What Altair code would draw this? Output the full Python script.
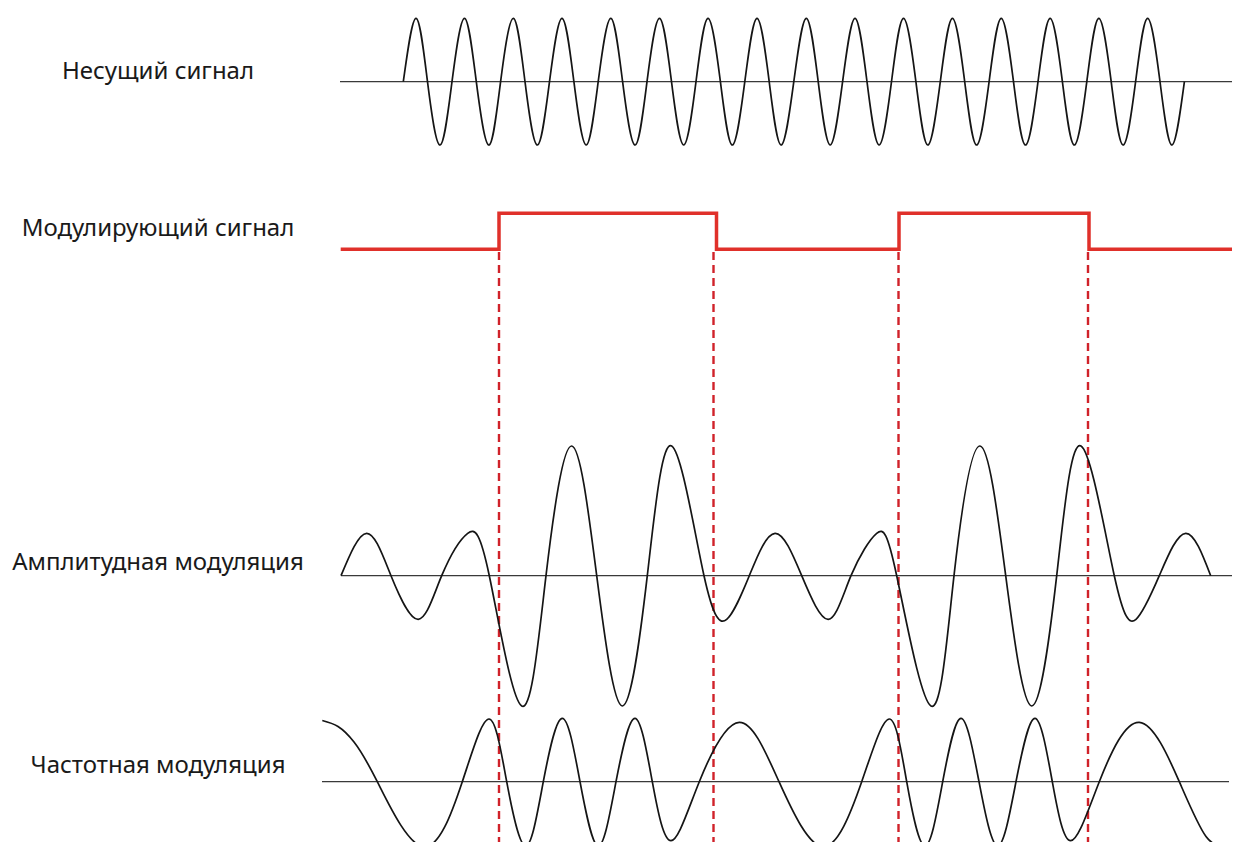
import altair as alt
import pandas as pd

# ---------------- data ----------------
# Horizontal unit: time (same units as the picture's x), vertical: signal level (picture y units)

labels = ["Несущий сигнал", "Модулирующий сигнал", "Амплитудная модуляция", "Частотная модуляция"]
label_x = [158, 158, 158, 158]
label_y = [72, 229, 563, 766]

# Carrier signal: zero crossings, peaks, troughs
carrier_base = 81.7
carrier_peak = 18.3
carrier_trough = 145.0
carrier_peaks_x = [416.0, 464.5, 513.3, 562.0, 610.8, 659.5, 708.0, 757.0, 806.3, 855.0,
                   903.5, 952.4, 1001.2, 1050.1, 1098.8, 1147.6]
carrier_troughs_x = [440.0, 488.9, 537.4, 586.2, 635.1, 683.7, 732.3, 781.1, 830.2, 879.1,
                     927.8, 976.6, 1025.5, 1074.3, 1123.1, 1171.9]
carrier_zeros_x = [403.3, 427.5, 452.0, 476.3, 500.6, 525.0, 549.5, 573.9, 598.2, 622.6,
                   647.0, 671.5, 696.0, 720.4, 744.8, 769.2, 793.8, 818.2, 842.6, 867.0,
                   891.5, 915.9, 940.3, 964.7, 989.1, 1013.5, 1038.0, 1062.4, 1086.8, 1111.2,
                   1135.6, 1160.0, 1184.4]

# Modulating (square) signal
mod_x = [340.7, 499.0, 716.5, 899.0, 1089.0, 1240.0]
mod_y = [249.3, 213.3, 249.3, 213.3, 249.3, 249.3]

# Dashed markers at the switching instants
switch_x = [499.0, 713.5, 898.5, 1088.0]
switch_top = 252
switch_bottom = 850

# Amplitude modulated signal (zero crossings and extrema)
am_x = [341.0, 366.7, 391.0, 418.3, 441.7, 467.7, 489.3, 521.7, 546.0, 571.7, 596.7, 622.3,
        647.3, 671.7, 704.0, 726.7, 749.3, 775.0, 801.7, 828.3, 851.0, 876.7, 896.7, 931.0,
        954.0, 980.0, 1005.7, 1031.7, 1056.7, 1081.0, 1114.3, 1136.0, 1159.3, 1185.7, 1210.7]
am_y = [575.7, 533.3, 575.7, 619.3, 575.7, 533.3, 575.7, 706.0, 575.7, 446.0, 575.7, 706.0,
        575.7, 446.0, 575.7, 619.3, 575.7, 533.3, 575.7, 619.3, 575.7, 533.3, 575.7, 706.0,
        575.7, 446.0, 575.7, 706.0, 575.7, 446.0, 575.7, 619.3, 575.7, 533.3, 575.7]

# Frequency modulated signal (extrema, zero crossings and a few shoulder points)
fm_x = [322.3, 338.0, 354.0, 377.3, 423.3, 462.3, 489.0, 506.7, 525.7, 543.3, 562.3, 580.0,
        598.3, 616.0, 635.0, 652.3, 671.0, 699.3, 739.3, 779.0, 823.3, 861.7, 889.3, 906.7,
        925.0, 942.7, 961.0, 979.0, 997.7, 1016.0, 1035.0, 1052.3, 1070.7, 1099.3, 1139.3,
        1179.3, 1206.0, 1226.0]
fm_y = [720.5, 726.5, 742.0, 781.7, 846.7, 781.7, 719.0, 781.7, 846.0, 781.7, 718.3, 781.7,
        846.0, 781.7, 718.3, 781.7, 840.7, 781.7, 722.3, 781.7, 846.7, 781.7, 719.0, 781.7,
        846.0, 781.7, 718.3, 781.7, 846.0, 781.7, 718.3, 781.7, 840.7, 781.7, 722.3,
        781.7, 836.5, 846.0]

# Zero (reference) lines of the three waveforms
base_x0 = [340.0, 341.0, 322.0]
base_x1 = [1240.0, 1240.0, 1229.0]
base_y = [81.7, 575.7, 781.7]

# ---------------- build tables ----------------
carrier = pd.DataFrame(
    {"x": carrier_zeros_x + carrier_peaks_x + carrier_troughs_x,
     "y": [carrier_base] * len(carrier_zeros_x) + [carrier_peak] * len(carrier_peaks_x)
          + [carrier_trough] * len(carrier_troughs_x)}
).sort_values("x").reset_index(drop=True)
carrier["i"] = range(len(carrier))

mod = pd.DataFrame({"x": mod_x, "y": mod_y})
am = pd.DataFrame({"x": am_x, "y": am_y, "i": range(len(am_x))})
fm = pd.DataFrame({"x": fm_x, "y": fm_y, "i": range(len(fm_x))})
bases = pd.DataFrame({"x0": base_x0, "x1": base_x1, "y": base_y})
switches = pd.DataFrame({"x": switch_x, "y0": [switch_top] * 4, "y1": [switch_bottom] * 4})
texts = pd.DataFrame({"t": labels, "x": label_x, "y": label_y})

xs = alt.Scale(domain=[8, 1232])
ys = alt.Scale(domain=[842, 8])


def X(f):
    return alt.X(f, type="quantitative", scale=xs, axis=None)


def Y(f):
    return alt.Y(f, type="quantitative", scale=ys, axis=None)


base_lines = alt.Chart(bases).mark_rule(color="#3a3a3a", strokeWidth=1.3).encode(
    x=X("x0"), x2="x1", y=Y("y"))

dash = alt.Chart(switches).mark_rule(color="#d0222a", strokeWidth=2.4, strokeDash=[8, 5]).encode(
    x=X("x"), y=Y("y0"), y2="y1")

wave_style = dict(color="#151515", strokeWidth=1.7, interpolate="natural")

carrier_line = alt.Chart(carrier).mark_line(**wave_style).encode(
    x=X("x"), y=Y("y"), order="i:Q")
am_line = alt.Chart(am).mark_line(**wave_style).encode(x=X("x"), y=Y("y"), order="i:Q")
fm_line = alt.Chart(fm).mark_line(**wave_style).encode(x=X("x"), y=Y("y"), order="i:Q")

mod_line = alt.Chart(mod).mark_line(color="#e0302a", strokeWidth=3.5, interpolate="step-after",
                                     strokeJoin="miter").encode(x=X("x"), y=Y("y"))

text = alt.Chart(texts).mark_text(font="Noto Sans", fontSize=24, color="#1a1a1a",
                                  align="center", baseline="middle").encode(
    x=X("x"), y=Y("y"), text="t:N")

chart = alt.layer(base_lines, dash, carrier_line, am_line, fm_line, mod_line, text).properties(
    width=1224, height=834, padding=0,
    autosize=alt.AutoSizeParams(type="none"),
).configure_view(stroke=None)

chart.save("out.html", embed_options={"renderer": "svg", "actions": False})
